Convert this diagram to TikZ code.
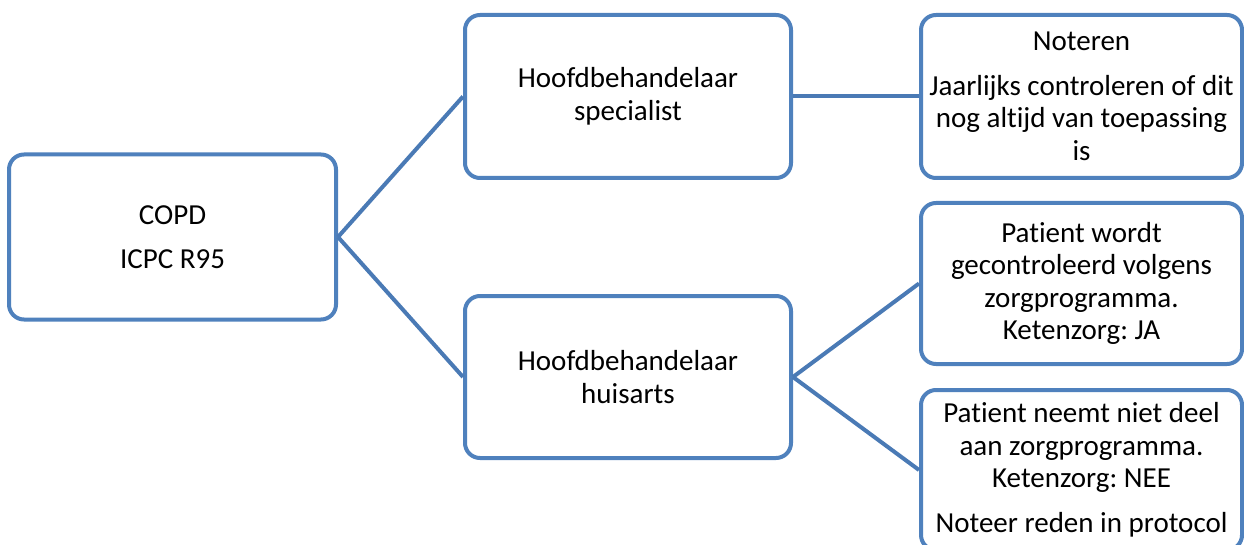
\documentclass[tikz,border=0pt]{standalone}
\usepackage{fontspec}
\setmainfont{Carlito}[Ligatures=NoCommon]
\frenchspacing
\definecolor{boxblue}{HTML}{4F81BD}
\definecolor{lineblue}{HTML}{4A7AB5}
\begin{document}
\begin{tikzpicture}[x=1pt,y=-1pt,
  box/.style={draw=boxblue,line width=4pt,rounded corners=15pt,fill=white,
    inner sep=0pt,align=center,font=\fontsize{29}{32.5}\selectfont},
  conn/.style={draw=lineblue,line width=4pt}]
\useasboundingbox (0,0) rectangle (1244,545);
\node[box,minimum width=327pt,minimum height=165pt] (copd) at (172.5,237) {COPD\\[12pt]ICPC R95};
\node[box,minimum width=326pt,minimum height=163pt] (spec) at (628,96.5) {Hoofdbehandelaar\\specialist};
\node[box,minimum width=326pt,minimum height=162pt] (huis) at (628,377) {Hoofdbehandelaar\\huisarts};
\node[box,minimum width=321pt,minimum height=163pt] (note) at (1081.5,96.5) {Noteren\\[12pt]Jaarlijks controleren of dit\\nog altijd van toepassing\\is};
\node[box,minimum width=321pt,minimum height=161pt] (ja) at (1081.5,283.5) {Patient wordt\\gecontroleerd volgens\\zorgprogramma.\\Ketenzorg: JA};
\node[box,minimum width=321pt,minimum height=160pt] (nee) at (1081.5,470) {Patient neemt niet deel\\aan zorgprogramma.\\Ketenzorg: NEE\\[12pt]Noteer reden in protocol};
\draw[conn] (copd.east) -- (spec.west);
\draw[conn] (copd.east) -- (huis.west);
\draw[conn] (spec.east) -- (note.west);
\draw[conn] (huis.east) -- (ja.west);
\draw[conn] (huis.east) -- (nee.west);
\end{tikzpicture}
\end{document}
